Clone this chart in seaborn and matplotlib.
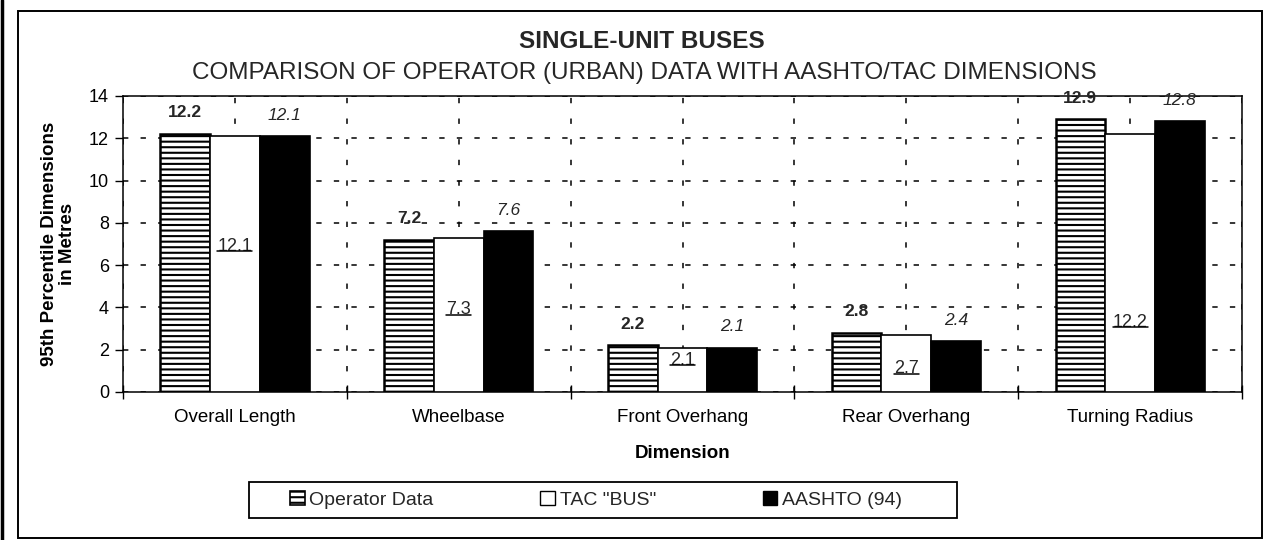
import numpy as np
import pandas as pd
import seaborn as sns
import matplotlib.pyplot as plt
from matplotlib.patches import Patch, Rectangle
from matplotlib.lines import Line2D

# Dimension categories and the three data sources (metres, 95th percentile)
dimensions = ["Overall Length", "Wheelbase", "Front Overhang", "Rear Overhang", "Turning Radius"]
series_names = ["Operator Data", 'TAC "BUS"', "AASHTO (94)"]
operator_data = [12.2, 7.2, 2.2, 2.8, 12.9]
tac_bus = [12.1, 7.3, 2.1, 2.7, 12.2]
aashto_94 = [12.1, 7.6, 2.1, 2.4, 12.8]
# heights at which the TAC values are written inside their bars
tac_label_y = [6.9, 3.9, 1.5, 1.1, 3.3]

sns.set_theme(style="white")
plt.rcParams["font.family"] = ["Liberation Sans", "DejaVu Sans"]
plt.rcParams["hatch.linewidth"] = 1.5
plt.rcParams["hatch.color"] = "black"

W, H = 1266, 540
fig = plt.figure(figsize=(W / 100, H / 100), dpi=100, facecolor="white")
ax = fig.add_axes([123 / W, 1 - 392 / H, (1242 - 123) / W, (392 - 96) / H])

df = pd.DataFrame({
    "Dimension": dimensions * 3,
    "Source": np.repeat(series_names, len(dimensions)),
    "Value": operator_data + tac_bus + aashto_94,
})

palette = {series_names[0]: "white", series_names[1]: "white", series_names[2]: "black"}
sns.barplot(data=df, x="Dimension", y="Value", hue="Source", order=dimensions,
            hue_order=series_names, palette=palette, width=2 / 3, gap=0,
            edgecolor="black", linewidth=1.2, saturation=1, errorbar=None,
            legend=False, ax=ax, zorder=3)

# hatch the operator bars with horizontal lines
n = len(dimensions)
for bar in ax.patches[:n]:
    bar.set_hatch("---")
    bar.set_linewidth(1.8)

ax.set_ylim(0, 14)
ax.set_xlim(-0.5, n - 0.5)
ax.set_yticks(np.arange(0, 15, 2))
ax.tick_params(axis="y", labelsize=13, direction="out", length=6, width=1,
               color="black", labelcolor="black", left=True, pad=4)

# category boundaries carry the tick marks, category centres carry the labels
ax.set_xticks(np.arange(-0.5, n, 1), [""] * (n + 1))
ax.set_xticks(np.arange(n), dimensions, minor=True)
ax.tick_params(axis="x", which="major", direction="inout", length=10, width=1,
               color="black", bottom=True)
ax.tick_params(axis="x", which="minor", length=0, labelsize=13.5, pad=12,
               labelcolor="black")

ax.grid(axis="y", which="major", color="black", linewidth=1.1,
        linestyle=(0, (3.5, 8)), zorder=0)
ax.grid(axis="x", which="both", color="black", linewidth=1.1,
        linestyle=(0, (3.5, 10)), zorder=0)
ax.set_axisbelow(True)

for s in ax.spines.values():
    s.set_color("black")
    s.set_linewidth(1.1)
    s.set_visible(True)

ax.set_xlabel("Dimension", fontsize=13.5, fontweight="bold", labelpad=14, color="black")
ax.set_ylabel("95th Percentile Dimensions\nin Metres", fontsize=13.5,
              fontweight="bold", labelpad=9, color="black", linespacing=1.1)

# value labels
offsets = np.array([-1, 0, 1]) * (2 / 9)
for i in range(n):
    ax.text(i + offsets[0], operator_data[i] + 1.0, f"{operator_data[i]:.1f}",
            ha="center", va="center", fontsize=12.5, fontweight="bold",
            clip_on=False, zorder=5)
    ax.text(i + offsets[2], aashto_94[i] + 1.0, f"{aashto_94[i]:.1f}",
            ha="center", va="center", fontsize=12.5, fontstyle="italic",
            clip_on=False, zorder=5)

tac_texts = []
for i in range(n):
    t = ax.text(i + offsets[1], tac_label_y[i], f"{tac_bus[i]:.1f}",
                ha="center", va="center", fontsize=13, zorder=5)
    tac_texts.append(t)

# titles
fig.text(642 / W, 1 - 42 / H, "SINGLE-UNIT BUSES", ha="center", va="center",
         fontsize=17.5, fontweight="bold")
fig.text(644 / W, 1 - 73 / H,
         "COMPARISON OF OPERATOR (URBAN) DATA WITH AASHTO/TAC DIMENSIONS",
         ha="center", va="center", fontsize=17.5)

# legend with its own frame
handles = [
    Patch(facecolor="white", edgecolor="black", hatch="---", linewidth=1.2),
    Patch(facecolor="white", edgecolor="black", linewidth=1.0),
    Patch(facecolor="black", edgecolor="black", linewidth=1.0),
]
fig.patches.append(Rectangle((249 / W, 1 - 518 / H), (957 - 249) / W, 36 / H,
                             transform=fig.transFigure, facecolor="white",
                             edgecolor="black", linewidth=1.3))
fig.legend(handles, series_names, loc="center", ncol=3, mode="expand",
           bbox_to_anchor=(290 / W, 1 - 518 / H, (902 - 290) / W, 36 / H),
           frameon=False, fontsize=14, handlelength=0.75, handleheight=0.75,
           handletextpad=0.25, borderpad=0, borderaxespad=0)

# outer chart border and scanned page edge
fig.patches.append(Rectangle((18 / W, 1 - 538 / H), (1262 - 18) / W, (538 - 11) / H,
                             transform=fig.transFigure, facecolor="none",
                             edgecolor="black", linewidth=1.4))
fig.add_artist(Line2D([1.5 / W, 1.5 / W], [0, 1], transform=fig.transFigure,
                      color="black", linewidth=2.5))

# underline the TAC values just below the digits
fig.canvas.draw()
renderer = fig.canvas.get_renderer()
inv = fig.transFigure.inverted()
for t in tac_texts:
    bb = t.get_window_extent(renderer)
    yl = bb.y0 + 0.2 * bb.height
    (x0, y0), (x1, _) = inv.transform([(bb.x0, yl), (bb.x1, yl)])
    fig.add_artist(Line2D([x0, x1], [y0, y0], transform=fig.transFigure,
                          color="black", linewidth=1.1, zorder=6))

fig.savefig("out.png", dpi=100, facecolor="white")
